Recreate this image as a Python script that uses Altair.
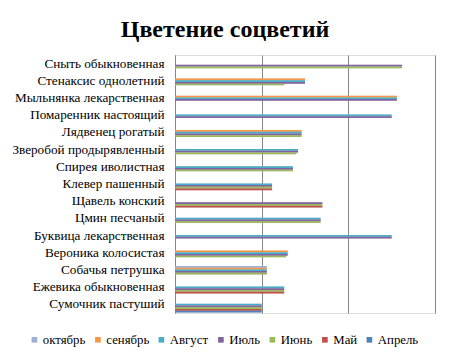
import altair as alt
import pandas as pd

categories = ["Сныть обыкновенная", "Стенаксис однолетний", "Мыльнянка лекарственная",
              "Помаренник настоящий", "Лядвенец рогатый", "Зверобой продырявленный",
              "Спирея иволистная", "Клевер пашенный", "Щавель конский", "Цмин песчаный",
              "Буквица лекарственная", "Вероника колосистая", "Собачья петрушка",
              "Ежевика обыкновенная", "Сумочник пастуший"]

series = ["октябрь", "сенябрь", "Август", "Июль", "Июнь", "Май", "Апрель"]
colors = ["#9DB0D9", "#F79646", "#4BACC6", "#8064A2", "#9BBB59", "#C0504D", "#4F81BD"]

oct_v = [0, 0, 0, 0, 0, 0, 0, 0, 0, 0, 0, 0, 53, 0, 0]
sep_v = [0, 75, 128, 0, 73, 0, 0, 0, 0, 0, 0, 65, 53, 0, 0]
aug_v = [0, 75, 128, 125, 73, 71, 68, 56, 0, 84, 125, 65, 53, 63, 50]
jul_v = [131, 75, 128, 125, 73, 71, 68, 56, 85, 84, 125, 65, 53, 63, 50]
jun_v = [131, 63, 0, 0, 73, 70, 68, 56, 85, 84, 0, 64, 53, 63, 50]
may_v = [0, 0, 0, 0, 0, 0, 0, 56, 85, 0, 0, 0, 0, 63, 50]
apr_v = [0, 0, 0, 0, 0, 0, 0, 0, 0, 0, 0, 0, 0, 0, 50]

rows = []
for s, vals in zip(series, [oct_v, sep_v, aug_v, jul_v, jun_v, may_v, apr_v]):
    for c, v in zip(categories, vals):
        if v > 0:
            rows.append({"cat": c, "series": s, "value": v})
df = pd.DataFrame(rows)

font = "Liberation Serif"

y_enc = alt.Y("cat:N", sort=categories, title=None,
              scale=alt.Scale(paddingInner=0.3, paddingOuter=0.15),
              axis=alt.Axis(ticks=False, labelPadding=11, domainColor="#868686",
                            labelLimit=300, grid=False, labelFont=font,
                            labelFontSize=13.2, labelColor="black"))
x_enc = alt.X("value:Q", title=None, scale=alt.Scale(domain=[0, 150], nice=False),
              axis=alt.Axis(values=[0, 50, 100, 150], labels=False, ticks=False,
                            domain=False, grid=True, gridColor="#868686",
                            gridOpacity=1, gridWidth=1))

shadow = alt.Chart(df).mark_bar(color="#9a9a9a", opacity=0.45).encode(
    x=x_enc, y=y_enc,
    yOffset=alt.YOffset("series:N", sort=series,
                        scale=alt.Scale(domain=series, range=[2, 14])),
)

bars = alt.Chart(df).mark_bar().encode(
    x=x_enc, y=y_enc,
    yOffset=alt.YOffset("series:N", sort=series, scale=alt.Scale(domain=series)),
    color=alt.Color("series:N", sort=series,
                    scale=alt.Scale(domain=series, range=colors),
                    legend=alt.Legend(title=None, orient="none", direction="horizontal",
                                      legendX=-147, legendY=278,
                                      symbolType="square", symbolSize=32,
                                      symbolStrokeWidth=0, labelOffset=2,
                                      columnPadding=5.5, labelFont=font,
                                      labelFontSize=12.8, labelColor="black")),
)

chart = alt.layer(shadow, bars).properties(
    width=260, height=258,
    autosize=alt.AutoSizeParams(type="none"),
    padding={"left": 167, "top": 47, "right": 9, "bottom": 39},
    title=alt.TitleParams("Цветение соцветий", font=font, fontSize=24, fontWeight="bold",
                          color="black", anchor="middle", dx=-80, offset=13),
).configure_view(stroke=None).configure(font=font)

chart.save("out.html", embed_options={"renderer": "svg", "actions": False})
